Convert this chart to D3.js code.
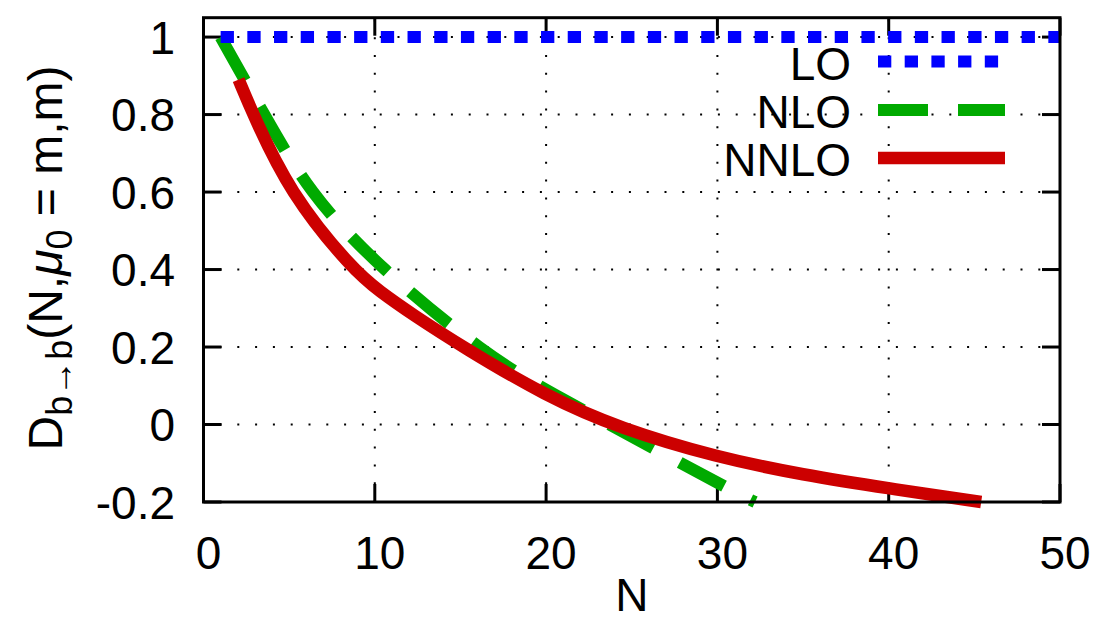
<!DOCTYPE html>
<html><head><meta charset="utf-8">
<script src="https://cdn.jsdelivr.net/npm/d3@7"></script>
<style>
html,body{margin:0;padding:0;background:#fff;}
svg{display:block;font-family:"Liberation Sans",Arial,Helvetica,sans-serif;}
</style></head>
<body>
<svg id="c" width="1097" height="621"></svg>
<script>
// ---- data ----
const xTicks = [0, 10, 20, 30, 40, 50];
const yTicks = [-0.2, 0, 0.2, 0.4, 0.6, 0.8, 1];
const yTickLabels = ["-0.2", "0", "0.2", "0.4", "0.6", "0.8", "1"];
const seriesNames = ["LO", "NLO", "NNLO"];
const loN = [1, 50];
const loD = [1, 1];
const nloN = [1, 3.55, 6.4, 10.6, 16.1, 20, 23.7, 30, 32.2];
const nloD = [1.0, 0.8, 0.6, 0.4, 0.2, 0.09, 0.0, -0.15, -0.2];
const nnloN = [2.05, 2.9, 5.0, 8.7, 10.3, 12.2, 15.14, 20, 24.3, 30, 35, 40, 45.4];
const nnloD = [0.89, 0.8, 0.6, 0.4, 0.343, 0.284, 0.2, 0.073, -0.01, -0.085, -0.13, -0.165, -0.2];

// ---- layout ----
const svg = d3.select("#c");
const L = 203.5, R = 1060, T = 17.7, B = 502;
const x = d3.scaleLinear().domain([0, 50]).range([L, R]);
const y = d3.scaleLinear().domain([-0.2, 1.05]).range([B, T]);
const FS = 46;

// grid
const g = svg.append("g");
g.selectAll(".gx").data(xTicks.filter(d => d > 0 && d < 50)).enter().append("line")
  .attr("x1", d => x(d)).attr("x2", d => x(d)).attr("y1", B).attr("y2", T)
  .attr("stroke", "#000").attr("stroke-width", 2).attr("stroke-dasharray", "2 15.8");
g.selectAll(".gy").data(yTicks.filter(d => d > -0.2)).enter().append("line")
  .attr("y1", d => y(d)).attr("y2", d => y(d)).attr("x1", L).attr("x2", R)
  .attr("stroke", "#000").attr("stroke-width", 2).attr("stroke-dasharray", "2 15.8")
  .attr("stroke-dashoffset", -16);

// ticks (inward, all four sides)
const TL = 18;
svg.selectAll(".tb").data(xTicks).enter().append("line")
  .attr("x1", d => x(d)).attr("x2", d => x(d)).attr("y1", B).attr("y2", B - TL)
  .attr("stroke", "#000").attr("stroke-width", 3);
svg.selectAll(".tt").data(xTicks).enter().append("line")
  .attr("x1", d => x(d)).attr("x2", d => x(d)).attr("y1", T).attr("y2", T + TL)
  .attr("stroke", "#000").attr("stroke-width", 3);
svg.selectAll(".tl").data(yTicks).enter().append("line")
  .attr("y1", d => y(d)).attr("y2", d => y(d)).attr("x1", L).attr("x2", L + TL)
  .attr("stroke", "#000").attr("stroke-width", 3);
svg.selectAll(".tr").data(yTicks).enter().append("line")
  .attr("y1", d => y(d)).attr("y2", d => y(d)).attr("x1", R).attr("x2", R - TL)
  .attr("stroke", "#000").attr("stroke-width", 3);

// curves
const lineN = d3.line().x(d => x(d[0])).y(d => y(d[1])).curve(d3.curveNatural);
const lineB = d3.line().x(d => x(d[0])).y(d => y(d[1])).curve(d3.curveBasis);
const zip = (a, b) => a.map((v, i) => [v, b[i]]);
const styles = [
  {color: "#0000ff", dash: "13.3 13.4", w: 12, gen: lineN},
  {color: "#00aa00", dash: "50 30", w: 12, gen: lineN},
  {color: "#cc0000", dash: null, w: 12.5, gen: lineB}
];
const data = [zip(loN, loD), zip(nloN, nloD), zip(nnloN, nnloD)];
[1, 2, 0].forEach(i => {
  const p = svg.append("path").datum(data[i]).attr("d", styles[i].gen)
    .attr("fill", "none").attr("stroke", styles[i].color)
    .attr("stroke-width", styles[i].w).attr("stroke-linecap", "butt").attr("stroke-linejoin", "round");
  if (styles[i].dash) p.attr("stroke-dasharray", styles[i].dash);
});

// frame
svg.append("rect").attr("x", L).attr("y", T).attr("width", R - L).attr("height", B - T)
  .attr("fill", "none").attr("stroke", "#000").attr("stroke-width", 3);

// tick labels
svg.selectAll(".xl").data(xTicks).enter().append("text")
  .attr("x", d => x(d) + 5).attr("y", 569).attr("text-anchor", "middle")
  .attr("font-size", FS).text(d => d);
svg.selectAll(".yl").data(yTicks).enter().append("text")
  .attr("x", 175).attr("y", d => y(d) + 16.5).attr("text-anchor", "end")
  .attr("font-size", FS).text((d, i) => yTickLabels[i]);

// axis titles
svg.append("text").attr("x", x(25)).attr("y", 611).attr("text-anchor", "middle")
  .attr("font-size", FS).text("N");
const yl = svg.append("text").attr("transform", "translate(62,258) rotate(-90)")
  .attr("text-anchor", "middle").attr("font-size", 48);
yl.append("tspan").text("D");
yl.append("tspan").attr("font-size", 36).attr("dy", 10).text("b→b");
yl.append("tspan").attr("dy", -10).text("(N,");
yl.append("tspan").attr("font-style", "italic").text("μ");
yl.append("tspan").attr("font-size", 36).attr("dy", 10).text("0");
yl.append("tspan").attr("dy", -10).text(" = m,m)");

// legend
const legY = [61.5, 110, 158];
seriesNames.forEach((n, i) => {
  svg.append("text").attr("x", 851).attr("y", legY[i] + 18).attr("text-anchor", "end")
    .attr("font-size", FS).text(n);
  const l = svg.append("line").attr("x1", 878).attr("x2", 1005)
    .attr("y1", legY[i]).attr("y2", legY[i])
    .attr("stroke", styles[i].color).attr("stroke-width", styles[i].w);
  if (styles[i].dash) l.attr("stroke-dasharray", styles[i].dash);
});
</script>
</body></html>
